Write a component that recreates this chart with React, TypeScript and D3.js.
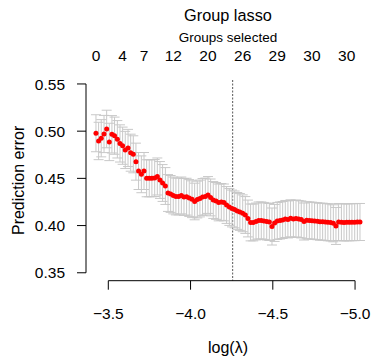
import React from "react";
import * as d3 from "d3";

const logLambda = [
  -3.425, -3.441, -3.457, -3.474, -3.490, -3.506, -3.522, -3.538, -3.555, -3.571,
  -3.587, -3.603, -3.620, -3.636, -3.652, -3.668, -3.684, -3.701, -3.717, -3.733,
  -3.749, -3.765, -3.782, -3.798, -3.814, -3.830, -3.847, -3.863, -3.879, -3.895,
  -3.911, -3.928, -3.944, -3.960, -3.976, -3.992, -4.009, -4.025, -4.041, -4.057,
  -4.073, -4.090, -4.106, -4.122, -4.138, -4.155, -4.171, -4.187, -4.203, -4.219,
  -4.236, -4.252, -4.268, -4.284, -4.300, -4.317, -4.333, -4.349, -4.365, -4.381,
  -4.398, -4.414, -4.430, -4.446, -4.463, -4.479, -4.495, -4.511, -4.527, -4.544,
  -4.560, -4.576, -4.592, -4.608, -4.625, -4.641, -4.657, -4.673, -4.690, -4.706,
  -4.722, -4.738, -4.754, -4.771, -4.787, -4.803, -4.819, -4.835, -4.852, -4.868,
  -4.884, -4.900, -4.917, -4.933, -4.949, -4.965, -4.981, -4.998, -5.014, -5.030,
];

const cvError = [
  0.4978, 0.4896, 0.4925, 0.4970, 0.5023, 0.4886, 0.4967, 0.4952, 0.4914, 0.4870,
  0.4846, 0.4801, 0.4822, 0.4772, 0.4755, 0.4677, 0.4578, 0.4543, 0.4578, 0.4501,
  0.4501, 0.4501, 0.4504, 0.4520, 0.4483, 0.4451, 0.4419, 0.4345, 0.4335, 0.4319,
  0.4308, 0.4308, 0.4319, 0.4303, 0.4306, 0.4292, 0.4279, 0.4255, 0.4276, 0.4287,
  0.4303, 0.4308, 0.4324, 0.4298, 0.4271, 0.4261, 0.4245, 0.4250, 0.4245, 0.4218,
  0.4197, 0.4181, 0.4171, 0.4155, 0.4144, 0.4130, 0.4112, 0.4075, 0.4033, 0.4033,
  0.4043, 0.4054, 0.4054, 0.4049, 0.4043, 0.4038, 0.3990, 0.4028, 0.4049, 0.4054,
  0.4059, 0.4070, 0.4065, 0.4077, 0.4070, 0.4075, 0.4070, 0.4065, 0.4043, 0.4056,
  0.4054, 0.4052, 0.4049, 0.4046, 0.4041, 0.4041, 0.4038, 0.4035, 0.4033, 0.4024,
  0.3996, 0.4038, 0.4035, 0.4033, 0.4035, 0.4035, 0.4036, 0.4036, 0.4038, 0.4038,
];

const cvSE = [
  0.0196, 0.0198, 0.0197, 0.0197, 0.0199, 0.0198, 0.0198, 0.0197, 0.0198, 0.0197,
  0.0197, 0.0197, 0.0197, 0.0196, 0.0196, 0.0196, 0.0196, 0.0195, 0.0196, 0.0196,
  0.0196, 0.0196, 0.0196, 0.0196, 0.0195, 0.0195, 0.0195, 0.0195, 0.0195, 0.0195,
  0.0195, 0.0195, 0.0195, 0.0195, 0.0195, 0.0195, 0.0195, 0.0194, 0.0195, 0.0195,
  0.0195, 0.0195, 0.0195, 0.0195, 0.0195, 0.0195, 0.0195, 0.0195, 0.0195, 0.0195,
  0.0195, 0.0195, 0.0195, 0.0195, 0.0195, 0.0195, 0.0195, 0.0195, 0.0195, 0.0195,
  0.0195, 0.0196, 0.0196, 0.0196, 0.0196, 0.0196, 0.0196, 0.0196, 0.0196, 0.0196,
  0.0196, 0.0196, 0.0196, 0.0196, 0.0196, 0.0196, 0.0196, 0.0196, 0.0196, 0.0196,
  0.0196, 0.0196, 0.0196, 0.0196, 0.0196, 0.0196, 0.0196, 0.0196, 0.0196, 0.0196,
  0.0196, 0.0196, 0.0196, 0.0196, 0.0196, 0.0196, 0.0196, 0.0196, 0.0196, 0.0196,
];

const groupsSelectedIndex = [0, 10, 18, 29, 42, 55, 68, 81, 94];
const groupsSelectedLabels = ["0", "4", "7", "12", "20", "26", "29", "30", "30"];
const xTicks = [-3.5, -4.0, -4.5, -5.0];
const yTicks = [0.35, 0.4, 0.45, 0.5, 0.55];
const selectedLogLambda = -4.256;

const W = 373;
const H = 358;
const FONT = "'Liberation Sans', Arial, Helvetica, sans-serif";

export default function App() {
  const x = d3.scaleLinear().domain([-3.3644, -5.0909]).range([86, 370]);
  const y = d3.scaleLinear().domain([0.3416, 0.5542]).range([280.7, 80]);
  const [plotTop, plotBottom] = [y.range()[1], y.range()[0]];
  const cap = 5;
  const tick = 9;
  const fmtY = d3.format(".2f");
  const fmtX = (v: number) => d3.format(".1f")(v).replace("-", "\u2212");
  const cx = (x.range()[0] + x.range()[1]) / 2;

  return (
    <svg
      width={W}
      height={H}
      style={{ position: "absolute", left: 0, top: 0, background: "#fff" }}
      fontFamily={FONT}
    >
      <rect width={W} height={H} fill="#fff" />
      {/* vertical reference line */}
      <line
        x1={x(selectedLogLambda)}
        x2={x(selectedLogLambda)}
        y1={plotTop}
        y2={plotBottom}
        stroke="#444"
        strokeWidth={0.9}
        strokeDasharray="2,1.5"
      />
      {/* error bars */}
      <g stroke="#c8c8c8" strokeWidth={1} fill="none">
        {logLambda.map((l, i) => {
          const xx = x(l);
          const lo = y(cvError[i] - cvSE[i]);
          const hi = y(cvError[i] + cvSE[i]);
          return (
            <g key={i}>
              <line x1={xx} x2={xx} y1={lo} y2={hi} />
              <line x1={xx - cap} x2={xx + cap} y1={lo} y2={lo} />
              <line x1={xx - cap} x2={xx + cap} y1={hi} y2={hi} />
            </g>
          );
        })}
      </g>
      {/* points */}
      <g fill="#ff0000">
        {logLambda.map((l, i) => (
          <circle key={i} cx={x(l)} cy={y(cvError[i])} r={2.5} />
        ))}
      </g>
      {/* y axis */}
      <g stroke="#000" strokeWidth={1}>
        <line x1={86} x2={86} y1={y(yTicks[0])} y2={y(yTicks[yTicks.length - 1])} />
        {yTicks.map((t) => (
          <line key={t} x1={86 - tick} x2={86} y1={y(t)} y2={y(t)} />
        ))}
      </g>
      {yTicks.map((t) => (
        <text key={t} x={65} y={y(t)} dy="0.36em" textAnchor="end" fontSize={15.5}>
          {fmtY(t)}
        </text>
      ))}
      {/* x axis */}
      <g stroke="#000" strokeWidth={1}>
        <line x1={x(xTicks[0])} x2={x(xTicks[xTicks.length - 1])} y1={plotBottom} y2={plotBottom} />
        {xTicks.map((t) => (
          <line key={t} x1={x(t)} x2={x(t)} y1={plotBottom} y2={plotBottom + tick} />
        ))}
      </g>
      {xTicks.map((t) => (
        <text key={t} x={x(t)} y={319} textAnchor="middle" fontSize={15.5}>
          {fmtX(t)}
        </text>
      ))}
      {/* top labels */}
      {groupsSelectedIndex.map((idx, k) => (
        <text key={k} x={x(logLambda[idx])} y={60.5} textAnchor="middle" fontSize={15.5}>
          {groupsSelectedLabels[k]}
        </text>
      ))}
      <text x={cx} y={21} textAnchor="middle" fontSize={16.3}>
        Group lasso
      </text>
      <text x={cx} y={41.5} textAnchor="middle" fontSize={13.5}>
        Groups selected
      </text>
      <text x={cx} y={353} textAnchor="middle" fontSize={16}>
        log(λ)
      </text>
      <text
        transform={`translate(23.5, ${(plotTop + plotBottom) / 2}) rotate(-90)`}
        textAnchor="middle"
        fontSize={16}
      >
        Prediction error
      </text>
    </svg>
  );
}
